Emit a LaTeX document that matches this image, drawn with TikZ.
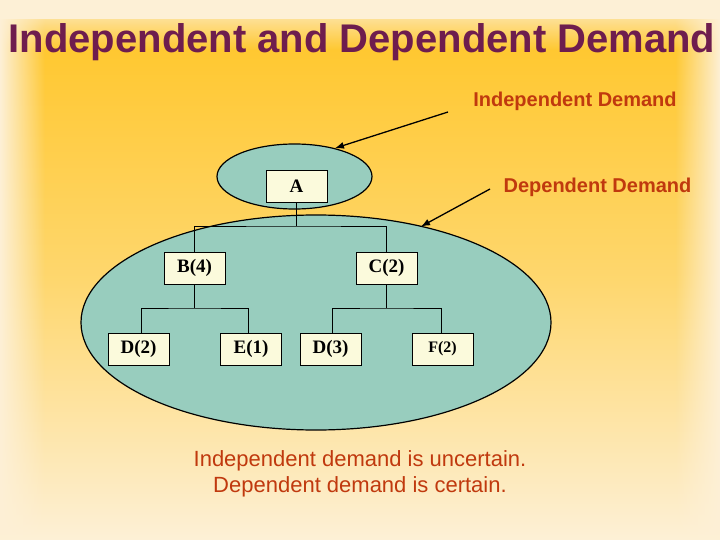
\documentclass[tikz,border=0pt]{standalone}
\usepackage{fontspec}
\setmainfont{Liberation Serif}
\newfontfamily\arial{Liberation Sans}
\usetikzlibrary{shapes.geometric,arrows.meta,fadings}
\definecolor{cream}{HTML}{FDF0D6}
\definecolor{gold}{HTML}{FFC629}
\definecolor{titlecol}{HTML}{6E1D4E}
\definecolor{labelcol}{HTML}{C0390E}
\definecolor{teal}{HTML}{98CDBE}
\definecolor{boxfill}{HTML}{FBFADC}
\tikzset{
  blob/.style={ellipse, draw=black, line width=1.2pt, fill=teal, inner sep=0pt},
  itembox/.style={rectangle, draw=black, line width=0.6pt, fill=boxfill, minimum width=61pt, minimum height=32pt, inner sep=0pt, font=\fontsize{19}{21}\selectfont\bfseries},
  link/.style={draw=black, line width=0.7pt},
  pointer/.style={draw=black, line width=1.3pt, -{Latex[length=9pt,width=7pt]}},
  lbl/.style={text=labelcol, font=\arial\fontsize{20}{24}\selectfont\bfseries, inner sep=0pt}
}
\begin{document}
\begin{tikzpicture}[x=1pt,y=-1pt]
% background
\useasboundingbox (0,0) rectangle (720,540);
\fill[cream] (0,0) rectangle (720,540);
\shade[top color=gold, bottom color=cream, middle color=gold!60!cream] (0,20) rectangle (720,540);
\fill[cream, path fading=east] (0,0) rectangle (45,540);
\fill[cream, path fading=west] (675,0) rectangle (720,540);
\fill[cream, path fading=south] (0,0) rectangle (720,50);
% title
\node[text=titlecol, font=\arial\fontsize{40}{46}\selectfont\bfseries, inner sep=0pt] (title) at (362,42) {Independent and Dependent Demand};
% ellipses
\node[blob, minimum width=470pt, minimum height=215pt] (big) at (316,322.5) {};
\node[blob, minimum width=155pt, minimum height=65pt] (small) at (294.5,176.5) {};
% boxes
\node[itembox] (A) at (296.5,186) {A};
\node[itembox] (B) at (194.5,268) {B(4)};
\node[itembox] (C) at (386.5,268) {C(2)};
\node[itembox] (D2) at (138.5,349) {D(2)};
\node[itembox] (E1) at (251,349) {E(1)};
\node[itembox] (D3) at (330.5,349) {D(3)};
\node[itembox, font=\fontsize{16}{18}\selectfont\bfseries] (F2) at (442.5,349) {F(2)};
% tree links
\coordinate (jA) at (296.5,226);
\coordinate (jB) at (194.5,308);
\coordinate (jC) at (386.5,308);
\draw[link] (A) -- (jA);
\draw[link] (B.north) |- (jA) -| (C.north);
\draw[link] (B) -- (jB);
\draw[link] ([xshift=2.5pt]D2.north) |- (jB) -| ([xshift=-3pt]E1.north);
\draw[link] (C) -- (jC);
\draw[link] ([xshift=1.5pt]D3.north) |- (jC) -| ([xshift=-1.5pt]F2.north);
% labels and pointers
\node[lbl] (indep) at (575,101) {Independent Demand};
\node[lbl] (dep) at (597.5,187) {Dependent Demand};
\coordinate (p1) at (448,112);
\coordinate (p2) at (490,189);
\draw[pointer] (p1) -- (small.35);
\draw[pointer] (p2) -- (421,226.5);
% bottom text
\node[text=labelcol, font=\arial\fontsize{22}{26}\selectfont, align=center, inner sep=0pt] (note) at (360,474) {Independent demand is uncertain.\\Dependent demand is certain.};
\end{tikzpicture}
\end{document}
